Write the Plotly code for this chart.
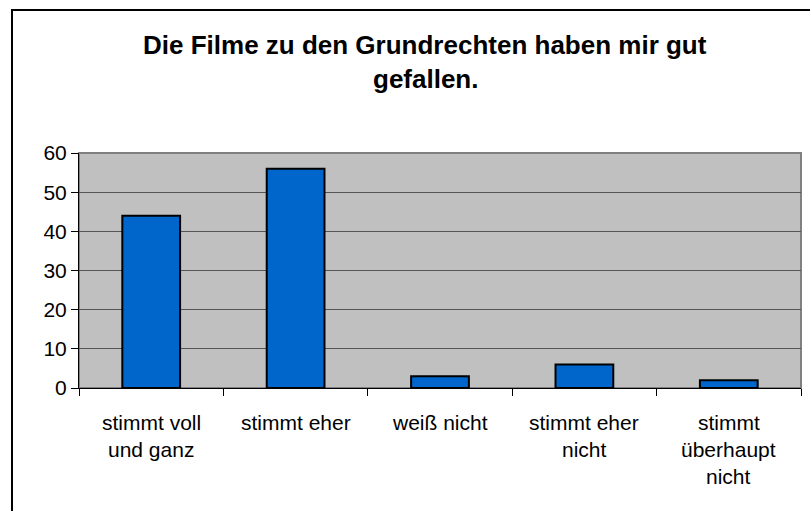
import plotly.graph_objects as go

# data
categories = ["stimmt voll und ganz", "stimmt eher", "weiß nicht",
              "stimmt eher nicht", "stimmt überhaupt nicht"]
values = [44, 56, 3, 6, 2]
label_lines = [["stimmt voll", "und ganz"], ["stimmt eher"], ["weiß nicht"],
               ["stimmt eher", "nicht"], ["stimmt", "überhaupt", "nicht"]]
title_lines = ["Die Filme zu den Grundrechten haben mir gut", "gefallen."]

W, H = 810, 511
L, R, T, B = 79, 9, 153, 123
pw, ph = W - L - R, H - T - B
font = "Liberation Sans, Arial, sans-serif"


def px_x(x):
    return (x - L) / pw


def px_y(y):
    return (H - B - y) / ph


fig = go.Figure(go.Bar(
    x=categories, y=values,
    marker=dict(color="#0066CC", line=dict(color="black", width=2)),
))

fig.update_layout(
    width=W, height=H,
    margin=dict(l=L, r=R, t=T, b=B),
    paper_bgcolor="white", plot_bgcolor="#C0C0C0",
    bargap=0.6, showlegend=False,
    font=dict(family=font, size=21, color="black"),
)
fig.update_xaxes(showticklabels=False, ticks="outside", tickson="boundaries",
                 ticklen=7, tickcolor="black", showline=True, linecolor="black",
                 linewidth=1, showgrid=False)
fig.update_yaxes(range=[0, 60], dtick=10, ticks="outside", ticklen=7,
                 tickcolor="black", showline=True, linecolor="black", linewidth=1,
                 gridcolor="#555555", gridwidth=1, zeroline=False,
                 tickfont=dict(size=21))

# plot area frame (grey top/right like the original)
fig.add_shape(type="rect", xref="paper", yref="paper", x0=0, x1=1, y0=0, y1=1,
              line=dict(color="#808080", width=2), layer="below")
# outer chart border
fig.add_shape(type="rect", xref="paper", yref="paper",
              x0=px_x(12), x1=px_x(820), y0=px_y(530), y1=px_y(10),
              line=dict(color="black", width=2))

# title, two lines
for i, line in enumerate(title_lines):
    fig.add_annotation(text="<b>" + line + "</b>", xref="paper", yref="paper",
                       x=px_x(425), y=px_y(45 + 34 * i), showarrow=False,
                       xanchor="center", yanchor="middle",
                       font=dict(size=26, color="black"))

# category labels, one annotation per line
for cat, lines in zip(categories, label_lines):
    for i, line in enumerate(lines):
        fig.add_annotation(text=line, x=cat, xref="x", yref="paper",
                           y=px_y(422 + 27 * i), showarrow=False,
                           xanchor="center", yanchor="middle",
                           font=dict(size=21, color="black"))

# page body has a default 8px margin; drop it so the chart sits at 0,0
fig.write_html("out.html", config={"displayModeBar": False},
               post_script="document.body.style.margin='0';")
